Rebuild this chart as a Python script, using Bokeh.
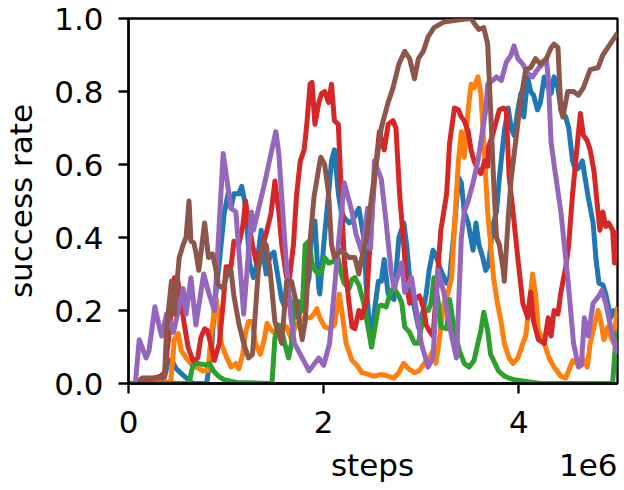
from bokeh.plotting import figure
from bokeh.models import (Range1d, FixedTicker, PrintfTickFormatter, LinearAxis,
                          CustomJSTickFormatter)
from bokeh.embed import file_html
from bokeh.resources import INLINE

# steps in units of 1e6, success rate 0..1
blue_x = [0.35,0.38,0.41,0.44,0.49,0.57,0.66,0.80,0.85,0.88,0.90,0.93,0.98,1.02,1.05,1.08,1.13,1.16,1.19,1.21,1.24,1.28,1.31,1.34,1.36,1.38,1.41,1.45,1.49,1.52,1.57,1.60,1.65,1.69,1.74,1.80,1.85,1.88,1.91,1.95,1.96,2.00,2.05,2.08,2.11,2.15,2.18,2.21,2.26,2.29,2.34,2.36,2.41,2.44,2.49,2.52,2.56,2.59,2.62,2.66,2.69,2.72,2.77,2.82,2.85,2.88,2.92,2.97,3.02,3.05,3.08,3.12,3.15,3.20,3.26,3.29,3.34,3.38,3.41,3.44,3.48,3.53,3.56,3.59,3.63,3.66,3.69,3.73,3.77,3.80,3.85,3.89,3.92,3.95,3.99,4.02,4.05,4.09,4.12,4.15,4.19,4.22,4.26,4.30,4.33,4.36,4.40,4.43,4.48,4.51,4.55,4.58,4.61,4.65,4.68,4.71,4.76,4.79,4.82,4.86,4.89,4.94,4.97,5.01]
blue_y = [0.0,0.03,0.063,0.065,0.04,0.02,0.0,0.0,0.09,0.21,0.26,0.33,0.465,0.52,0.48,0.52,0.52,0.54,0.50,0.45,0.33,0.29,0.32,0.38,0.42,0.36,0.30,0.35,0.36,0.31,0.23,0.21,0.235,0.20,0.18,0.235,0.29,0.43,0.445,0.26,0.245,0.38,0.52,0.61,0.64,0.52,0.47,0.455,0.44,0.445,0.47,0.48,0.40,0.25,0.10,0.20,0.28,0.28,0.34,0.245,0.24,0.23,0.40,0.44,0.38,0.29,0.22,0.155,0.20,0.245,0.31,0.365,0.35,0.31,0.275,0.29,0.43,0.565,0.55,0.47,0.44,0.365,0.44,0.38,0.345,0.31,0.325,0.43,0.47,0.565,0.69,0.755,0.70,0.68,0.75,0.795,0.73,0.84,0.80,0.79,0.75,0.77,0.84,0.81,0.795,0.84,0.81,0.75,0.73,0.70,0.61,0.585,0.59,0.61,0.56,0.51,0.44,0.34,0.275,0.27,0.245,0.18,0.20,0.18]

orange_x = [0.04,0.14,0.33,0.43,0.47,0.51,0.54,0.59,0.64,0.69,0.76,0.81,0.82,0.85,0.88,0.90,0.92,0.95,1.00,1.05,1.10,1.13,1.17,1.20,1.23,1.27,1.30,1.35,1.39,1.42,1.45,1.49,1.54,1.57,1.62,1.67,1.70,1.75,1.80,1.86,1.90,1.93,1.96,2.01,2.06,2.11,2.16,2.19,2.23,2.29,2.34,2.39,2.46,2.51,2.59,2.66,2.72,2.77,2.82,2.87,2.93,2.98,3.03,3.08,3.12,3.15,3.18,3.23,3.27,3.31,3.34,3.38,3.41,3.44,3.48,3.51,3.54,3.58,3.61,3.64,3.68,3.71,3.74,3.78,3.82,3.85,3.90,3.94,3.99,4.04,4.07,4.10,4.14,4.17,4.20,4.26,4.31,4.36,4.43,4.48,4.51,4.55,4.60,4.65,4.70,4.73,4.76,4.81,4.84,4.87,4.91,4.94,4.97,5.01]
orange_y = [0.0,0.012,0.01,0.0,0.12,0.137,0.09,0.07,0.055,0.045,0.035,0.035,0.055,0.137,0.20,0.23,0.19,0.11,0.075,0.045,0.055,0.04,0.08,0.14,0.17,0.17,0.11,0.08,0.12,0.165,0.15,0.14,0.155,0.16,0.155,0.12,0.15,0.17,0.18,0.18,0.19,0.205,0.18,0.155,0.15,0.16,0.245,0.19,0.11,0.063,0.05,0.03,0.025,0.02,0.025,0.02,0.015,0.03,0.055,0.04,0.03,0.035,0.055,0.07,0.09,0.055,0.11,0.22,0.245,0.29,0.43,0.61,0.69,0.62,0.75,0.82,0.81,0.84,0.795,0.66,0.47,0.38,0.29,0.22,0.165,0.11,0.07,0.055,0.07,0.11,0.13,0.20,0.30,0.245,0.145,0.11,0.07,0.045,0.02,0.015,0.035,0.063,0.055,0.07,0.045,0.11,0.145,0.20,0.17,0.12,0.155,0.13,0.11,0.21]

green_x = [0.0,0.62,0.66,0.71,0.80,0.83,0.87,0.92,0.98,1.11,1.47,1.50,1.54,1.57,1.60,1.64,1.67,1.70,1.74,1.78,1.81,1.85,1.88,1.91,1.95,1.98,2.01,2.05,2.11,2.15,2.18,2.21,2.26,2.29,2.32,2.36,2.41,2.46,2.49,2.52,2.56,2.59,2.64,2.69,2.72,2.77,2.80,2.83,2.88,2.93,2.97,3.00,3.03,3.07,3.10,3.13,3.17,3.20,3.26,3.29,3.34,3.39,3.44,3.49,3.54,3.58,3.61,3.64,3.68,3.71,3.79,3.85,3.95,4.09,4.22,4.96,4.99,5.01]
green_y = [0.0,0.0,0.05,0.055,0.05,0.055,0.035,0.02,0.01,0.003,0.0,0.125,0.16,0.145,0.11,0.07,0.11,0.22,0.225,0.20,0.38,0.39,0.33,0.31,0.30,0.31,0.345,0.33,0.335,0.34,0.30,0.275,0.26,0.285,0.29,0.27,0.22,0.145,0.10,0.145,0.21,0.215,0.21,0.255,0.26,0.24,0.22,0.155,0.14,0.11,0.11,0.155,0.20,0.20,0.22,0.29,0.23,0.155,0.15,0.23,0.145,0.09,0.055,0.045,0.063,0.11,0.145,0.195,0.145,0.08,0.035,0.02,0.01,0.005,0.0,0.0,0.11,0.145]

red_x = [0.11,0.24,0.33,0.37,0.42,0.45,0.47,0.50,0.54,0.57,0.61,0.66,0.71,0.74,0.78,0.81,0.85,0.88,0.93,0.97,1.00,1.05,1.08,1.13,1.17,1.20,1.23,1.27,1.31,1.34,1.40,1.46,1.50,1.54,1.57,1.62,1.65,1.69,1.72,1.76,1.80,1.83,1.86,1.88,1.91,1.95,1.98,2.01,2.05,2.08,2.11,2.15,2.18,2.21,2.26,2.29,2.32,2.36,2.39,2.44,2.47,2.52,2.57,2.62,2.66,2.71,2.74,2.78,2.82,2.85,2.88,2.93,2.98,3.02,3.05,3.08,3.12,3.17,3.20,3.26,3.29,3.34,3.38,3.41,3.44,3.48,3.51,3.54,3.58,3.61,3.65,3.68,3.69,3.73,3.77,3.80,3.84,3.87,3.90,3.94,3.99,4.04,4.09,4.12,4.15,4.20,4.26,4.30,4.33,4.36,4.40,4.43,4.48,4.51,4.55,4.60,4.63,4.66,4.70,4.73,4.77,4.81,4.83,4.86,4.89,4.92,4.96,4.98,5.01]
red_y = [0.01,0.013,0.02,0.03,0.145,0.255,0.29,0.29,0.22,0.165,0.10,0.063,0.07,0.125,0.15,0.145,0.10,0.063,0.11,0.22,0.32,0.32,0.39,0.38,0.43,0.50,0.44,0.38,0.33,0.35,0.40,0.465,0.555,0.47,0.38,0.29,0.29,0.38,0.51,0.61,0.64,0.72,0.82,0.825,0.71,0.77,0.795,0.80,0.77,0.82,0.72,0.71,0.52,0.34,0.22,0.155,0.15,0.20,0.18,0.23,0.365,0.56,0.69,0.64,0.71,0.72,0.70,0.51,0.38,0.27,0.22,0.23,0.24,0.21,0.16,0.145,0.13,0.31,0.42,0.52,0.66,0.755,0.75,0.73,0.72,0.69,0.64,0.61,0.585,0.575,0.61,0.595,0.65,0.68,0.72,0.75,0.755,0.75,0.565,0.47,0.34,0.22,0.18,0.25,0.17,0.12,0.11,0.18,0.13,0.20,0.19,0.25,0.32,0.38,0.52,0.66,0.74,0.68,0.665,0.64,0.58,0.47,0.42,0.47,0.43,0.44,0.42,0.33,0.42]

purple_x = [0.07,0.11,0.18,0.21,0.27,0.32,0.34,0.39,0.46,0.56,0.59,0.64,0.69,0.77,0.82,0.88,0.97,1.05,1.10,1.18,1.26,1.28,1.40,1.46,1.51,1.54,1.61,1.66,1.70,1.85,1.95,2.00,2.06,2.15,2.21,2.29,2.33,2.39,2.45,2.48,2.52,2.59,2.64,2.69,2.72,2.80,2.83,2.90,2.95,3.00,3.07,3.12,3.17,3.23,3.31,3.36,3.41,3.44,3.48,3.53,3.58,3.66,3.68,3.73,3.77,3.82,3.87,3.92,3.95,3.99,4.04,4.09,4.14,4.19,4.24,4.28,4.30,4.33,4.36,4.43,4.50,4.56,4.61,4.64,4.67,4.71,4.76,4.82,4.85,4.89,4.94,5.01]
purple_y = [0.0,0.12,0.07,0.09,0.21,0.15,0.13,0.19,0.14,0.26,0.19,0.29,0.16,0.30,0.25,0.20,0.63,0.48,0.47,0.19,0.47,0.42,0.555,0.63,0.69,0.63,0.355,0.19,0.11,0.035,0.07,0.05,0.11,0.38,0.55,0.47,0.41,0.36,0.48,0.37,0.61,0.56,0.44,0.31,0.26,0.33,0.25,0.29,0.20,0.11,0.045,0.07,0.31,0.25,0.13,0.07,0.40,0.47,0.50,0.55,0.61,0.75,0.82,0.83,0.84,0.83,0.88,0.90,0.925,0.89,0.875,0.85,0.84,0.86,0.875,0.89,0.84,0.66,0.60,0.47,0.29,0.11,0.045,0.05,0.18,0.13,0.22,0.24,0.255,0.22,0.155,0.08]

brown_x = [0.11,0.14,0.35,0.37,0.39,0.44,0.47,0.49,0.52,0.56,0.59,0.62,0.64,0.67,0.69,0.72,0.78,0.82,0.86,0.89,0.92,0.97,1.02,1.05,1.08,1.13,1.18,1.23,1.27,1.33,1.38,1.41,1.45,1.50,1.57,1.62,1.67,1.72,1.78,1.81,1.86,1.90,1.95,1.97,2.01,2.05,2.08,2.11,2.18,2.26,2.32,2.36,2.39,2.44,2.49,2.59,2.66,2.71,2.77,2.83,2.88,2.93,2.97,3.02,3.07,3.13,3.23,3.41,3.51,3.56,3.59,3.64,3.68,3.71,3.74,3.77,3.80,3.84,3.85,3.89,3.92,3.97,4.02,4.07,4.12,4.17,4.22,4.28,4.33,4.36,4.40,4.43,4.45,4.50,4.56,4.61,4.66,4.73,4.81,4.86,4.91,4.96,5.01]
brown_y = [0.0,0.015,0.015,0.02,0.15,0.28,0.19,0.26,0.345,0.38,0.40,0.50,0.39,0.385,0.36,0.31,0.44,0.345,0.355,0.32,0.27,0.26,0.31,0.31,0.24,0.165,0.11,0.07,0.08,0.31,0.39,0.38,0.31,0.17,0.11,0.28,0.28,0.22,0.12,0.17,0.39,0.51,0.59,0.62,0.60,0.52,0.38,0.345,0.365,0.345,0.345,0.30,0.345,0.40,0.51,0.70,0.77,0.81,0.875,0.91,0.89,0.835,0.89,0.91,0.95,0.975,0.99,0.997,1.0,0.98,0.97,0.975,0.93,0.75,0.56,0.40,0.38,0.31,0.28,0.45,0.56,0.67,0.78,0.86,0.865,0.89,0.875,0.89,0.92,0.93,0.92,0.75,0.73,0.80,0.80,0.79,0.81,0.86,0.865,0.90,0.92,0.94,0.96]

x_ticks = [0, 2, 4]
y_ticks = [0.0, 0.2, 0.4, 0.6, 0.8, 1.0]
x_title = "steps"
x_offset_text = "1e6"
y_title = "success rate"

series = [
    (blue_x, blue_y, "#1f77b4"),
    (orange_x, orange_y, "#ff7f0e"),
    (green_x, green_y, "#2ca02c"),
    (red_x, red_y, "#d62728"),
    (purple_x, purple_y, "#9467bd"),
    (brown_x, brown_y, "#8c564b"),
]

FONT = "DejaVu Sans"
FS = "31px"

p = figure(width=624, height=490, output_backend="svg", toolbar_location=None,
           x_range=Range1d(0, 5.01), y_range=Range1d(0, 1.0),
           min_border_left=126, min_border_right=7, min_border_top=18, min_border_bottom=107)
p.background_fill_color = "white"
p.border_fill_color = "white"
p.grid.visible = False
p.outline_line_color = "black"
p.outline_line_width = 2.3
p.outline_line_alpha = 1.0

for xs, ys, c in series:
    p.line(xs, ys, line_color=c, line_width=5.0, line_join="round")

def style(ax):
    ax.axis_line_width = 2.3
    ax.axis_line_color = "black"
    ax.major_tick_line_width = 2.3
    ax.major_tick_line_color = "black"
    ax.major_tick_out = 10
    ax.major_tick_in = 0
    ax.minor_tick_line_color = None
    ax.major_label_text_font = FONT
    ax.major_label_text_font_size = FS
    ax.major_label_text_color = "black"
    ax.axis_label_text_font = FONT
    ax.axis_label_text_font_size = FS
    ax.axis_label_text_font_style = "normal"
    ax.axis_label_text_color = "black"

style(p.xaxis[0])
style(p.yaxis[0])

p.xaxis.ticker = FixedTicker(ticks=x_ticks)
p.xaxis.major_label_standoff = 17

p.yaxis.ticker = FixedTicker(ticks=y_ticks)
p.yaxis.formatter = PrintfTickFormatter(format="%.1f")
p.yaxis.major_label_standoff = 15
p.yaxis.axis_label = y_title
p.yaxis.axis_label_standoff = 12

# second row under the x axis: the axis title and the matplotlib-style offset text
title_row = LinearAxis(
    ticker=FixedTicker(ticks=[2.5, 4.71]),
    formatter=CustomJSTickFormatter(
        args=dict(t=x_title, o=x_offset_text),
        code="return tick < 3.6 ? t : o;"),
)
style(title_row)
title_row.axis_line_color = None
title_row.major_tick_line_color = None
title_row.major_tick_out = 0
title_row.major_label_standoff = 11
p.add_layout(title_row, "below")

open("out.html", "w").write(file_html(p, INLINE))
